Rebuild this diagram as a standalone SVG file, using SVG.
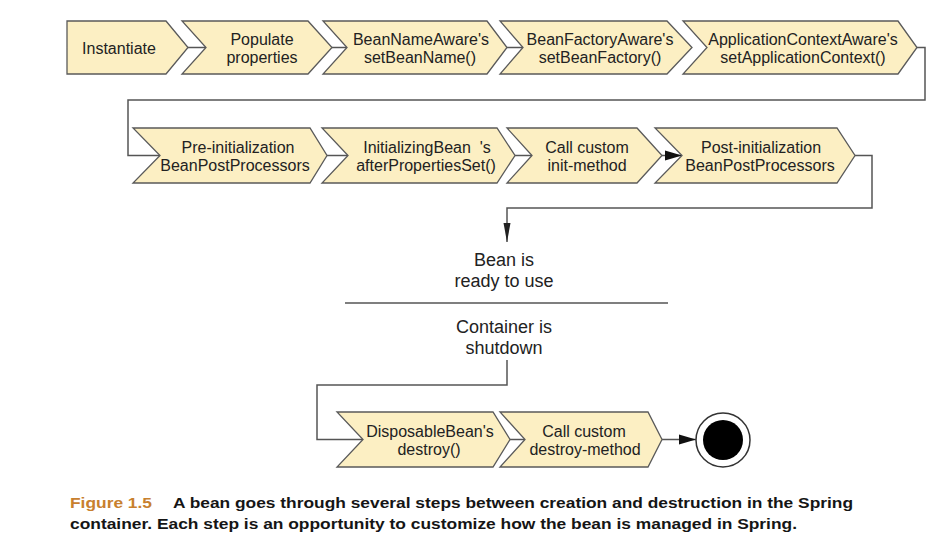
<svg xmlns="http://www.w3.org/2000/svg" width="946" height="552" viewBox="0 0 946 552">
<defs>
<style>
.step{fill:#fcefc3;stroke:#5a5a5a;stroke-width:1.3;stroke-linejoin:miter}
.lbl{font-family:"Liberation Sans",Arial,Helvetica,sans-serif;font-size:16px;fill:#222;text-anchor:middle}
.big{font-family:"Liberation Sans",Arial,Helvetica,sans-serif;font-size:18px;fill:#222;text-anchor:middle}
.conn{fill:none;stroke:#555;stroke-width:1.5}
.cap{font-family:"Liberation Sans",Arial,Helvetica,sans-serif;font-size:15px;font-weight:bold;fill:#151515}
.fig{fill:#c8802e}
</style>
<marker id="arr" markerUnits="userSpaceOnUse" markerWidth="18" markerHeight="12" refX="17" refY="6" orient="auto"><path d="M0,1 L17,6 L0,11 Z" fill="#111"/></marker>
<marker id="arrDown" markerUnits="userSpaceOnUse" markerWidth="20" markerHeight="10" refX="19" refY="5" orient="auto"><path d="M0,1.5 L19,5 L0,8.5 Z" fill="#222"/></marker>
</defs>
<rect width="946" height="552" fill="#fff"/>

<g id="connectors">
<path class="conn" d="M188,47.5 H206"/>
<path class="conn" d="M332,47.5 H347"/>
<path class="conn" d="M507,47.5 H523"/>
<path class="conn" d="M917,47.5 H925 V100 H128 V155.5 H160"/>
<path class="conn" d="M327,155.5 H348"/>
<path class="conn" d="M515,155.5 H532"/>
<path class="conn" d="M662,155.5 H682" marker-end="url(#arr)"/>
<path class="conn" d="M855,155.5 H872 V208 H507 V242" marker-end="url(#arrDown)"/>
<path class="conn" d="M507,360 V385 H317 V439.5 H363"/>
<path class="conn" d="M510,439.5 H525"/>
<path class="conn" d="M662,439.5 H696" marker-end="url(#arr)"/>
</g>

<g id="instantiate">
<path class="step" d="M67,21 H166 L188,47.5 L166,74 H67 Z"/>
<text class="lbl" x="119" y="54">Instantiate</text>
</g>
<g id="populate">
<path class="step" d="M182,21 H308 L332,47.5 L308,74 H182 L206,47.5 Z"/>
<text class="lbl" x="262" y="45">Populate</text>
<text class="lbl" x="262" y="63">properties</text>
</g>
<g id="beanNameAware">
<path class="step" d="M323,21 H487 L507,47.5 L487,74 H323 L347,47.5 Z"/>
<text class="lbl" x="421" y="45">BeanNameAware's</text>
<text class="lbl" x="420" y="63">setBeanName()</text>
</g>
<g id="beanFactoryAware">
<path class="step" d="M500,21 H667 L692,47.5 L667,74 H500 L523,47.5 Z"/>
<text class="lbl" x="600" y="45">BeanFactoryAware's</text>
<text class="lbl" x="600" y="63">setBeanFactory()</text>
</g>
<g id="applicationContextAware">
<path class="step" d="M683,21 H898 L917,47.5 L898,74 H683 L707,47.5 Z"/>
<text class="lbl" x="803" y="45">ApplicationContextAware's</text>
<text class="lbl" x="803" y="63">setApplicationContext()</text>
</g>

<g id="preInit">
<path class="step" d="M133,128 H310 L327,155.5 L310,183 H133 L160,155.5 Z"/>
<text class="lbl" x="238" y="153">Pre-initialization</text>
<text class="lbl" x="235" y="171">BeanPostProcessors</text>
</g>
<g id="initializingBean">
<path class="step" d="M322,128 H497 L515,155.5 L497,183 H322 L348,155.5 Z"/>
<text class="lbl" x="427" y="153" xml:space="preserve">InitializingBean  's</text>
<text class="lbl" x="426" y="171">afterPropertiesSet()</text>
</g>
<g id="initMethod">
<path class="step" d="M507,128 H637 L662,155.5 L637,183 H507 L532,155.5 Z"/>
<text class="lbl" x="587" y="153">Call custom</text>
<text class="lbl" x="587" y="171">init-method</text>
</g>
<g id="postInit">
<path class="step" d="M655,128 H837 L855,155.5 L837,183 H655 L682,155.5 Z"/>
<text class="lbl" x="761" y="153">Post-initialization</text>
<text class="lbl" x="760" y="171">BeanPostProcessors</text>
</g>

<g id="ready">
<text class="big" x="504" y="266">Bean is</text>
<text class="big" x="504" y="287">ready to use</text>
</g>
<line x1="345" y1="303" x2="668" y2="303" stroke="#555" stroke-width="1.3"/>
<g id="shutdown">
<text class="big" x="504" y="333">Container is</text>
<text class="big" x="504" y="354">shutdown</text>
</g>

<g id="disposableBean">
<path class="step" d="M337,412 H493 L510,439.5 L493,467 H337 L363,439.5 Z"/>
<text class="lbl" x="430" y="437">DisposableBean's</text>
<text class="lbl" x="429" y="455">destroy()</text>
</g>
<g id="destroyMethod">
<path class="step" d="M500,412 H648 L662,439.5 L648,467 H500 L525,439.5 Z"/>
<text class="lbl" x="584" y="437">Call custom</text>
<text class="lbl" x="585" y="455">destroy-method</text>
</g>
<g id="end">
<circle cx="723" cy="440" r="27" fill="#fff" stroke="#333" stroke-width="1.5"/>
<circle cx="723" cy="440" r="20" fill="#000"/>
</g>

<g id="caption">
<text class="cap fig" x="70" y="508" textLength="82" lengthAdjust="spacingAndGlyphs">Figure 1.5</text>
<text class="cap" x="173" y="508" textLength="680" lengthAdjust="spacingAndGlyphs">A bean goes through several steps between creation and destruction in the Spring</text>
<text class="cap" x="70" y="529" textLength="727" lengthAdjust="spacingAndGlyphs">container. Each step is an opportunity to customize how the bean is managed in Spring.</text>
</g>
</svg>
